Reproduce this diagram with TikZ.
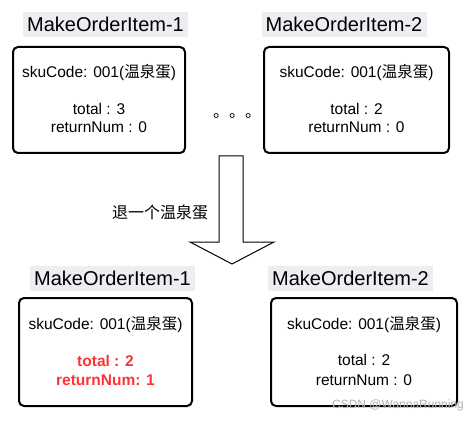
\documentclass[tikz,border=0pt]{standalone}
\usepackage{fontspec}
\setmainfont{Liberation Sans}
\newfontfamily\cjk{Noto Sans CJK SC}
\definecolor{titlebg}{RGB}{238,238,242}
\definecolor{hired}{RGB}{255,51,51}
\begin{document}
\begin{tikzpicture}[x=1pt,y=-1pt,
  itembox/.style={draw, line width=2pt, rounded corners=5pt, inner sep=0pt},
  titlebox/.style={fill=titlebg, inner sep=0pt, minimum width=165pt, minimum height=25pt, font=\fontsize{20}{22}\selectfont},
  itemtext/.style={inner sep=0pt, font=\fontsize{15.5}{17}\selectfont},
  redtext/.style={itemtext, text=hired, font=\fontsize{15.5}{17}\selectfont\bfseries}]
\useasboundingbox (0,0) rectangle (476,422);
% titles
\node[titlebox] (t1) at (105.5,24.5) {MakeOrderItem-1};
\node[titlebox] (t2) at (344,24.5) {MakeOrderItem-2};
\node[titlebox] (t3) at (112.5,278) {MakeOrderItem-1};
\node[titlebox] (t4) at (350.5,278) {MakeOrderItem-2};
% boxes
\node[itembox, minimum width=172pt, minimum height=106pt] (b1) at (99,100) {};
\node[itembox, minimum width=185pt, minimum height=106pt] (b2) at (356.5,100) {};
\node[itembox, minimum width=173pt, minimum height=108pt] (b3) at (105.5,352) {};
\node[itembox, minimum width=186pt, minimum height=108pt] (b4) at (364,352) {};
% box 1 text
\node[itemtext] (s1) at (99,73) {skuCode: 001({\cjk 温泉蛋})};
\node[itemtext] (n1) at (99,109) {total : 3};
\node[itemtext] (r1) at (99,127) {returnNum : 0};
% box 2 text
\node[itemtext] (s2) at (356.5,73) {skuCode: 001({\cjk 温泉蛋})};
\node[itemtext] (n2) at (356.5,109) {total : 2};
\node[itemtext] (r2) at (356.5,127) {returnNum : 0};
% box 3 text
\node[itemtext] (s3) at (105.5,325) {skuCode: 001({\cjk 温泉蛋})};
\node[redtext] (n3) at (105.5,361) {total : 2};
\node[redtext] (r3) at (105.5,380) {returnNum: 1};
% box 4 text
\node[itemtext] (s4) at (364,325) {skuCode: 001({\cjk 温泉蛋})};
\node[itemtext] (n4) at (364,360) {total : 2};
\node[itemtext] (r4) at (364,380) {returnNum : 0};
% dots
\node[inner sep=0pt, anchor=base west, font=\fontsize{16}{16}\selectfont\cjk] (dots) at (213,118) {。。。};
% big arrow
\draw[line width=1pt, fill=white] (219,156) -- (243,156) -- (243,242) -- (274,242) -- (232,264) -- (190,242) -- (219,242) -- cycle;
\coordinate (arrowtip) at (232,264);
\node[inner sep=0pt, font=\fontsize{16}{18}\selectfont\cjk] (lbl) at (160,212) {退一个温泉蛋};
% watermark
\node[inner sep=0pt, text=gray!60, font=\fontsize{12}{14}\selectfont] (wm) at (398,405) {CSDN @WannaRunning};
\end{tikzpicture}
\end{document}
